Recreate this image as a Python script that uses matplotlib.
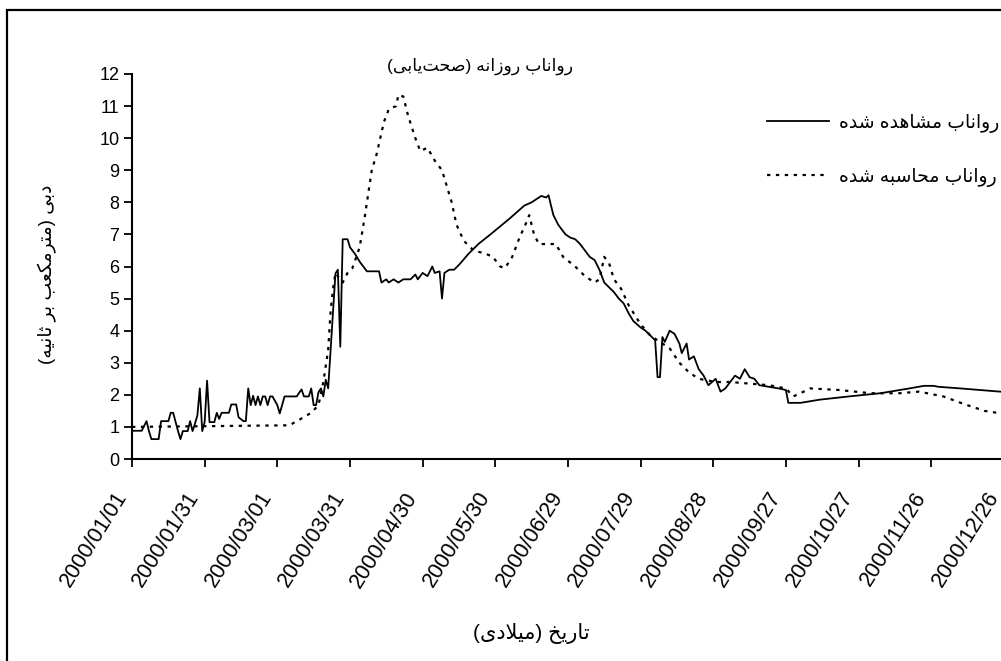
import matplotlib
matplotlib.use('Agg')
import matplotlib.pyplot as plt
import matplotlib.transforms as mtransforms
from matplotlib.patches import Rectangle

plt.rcParams['font.family'] = ['Liberation Sans', 'DejaVu Sans']

# روز از ابتدای سال 2000 و دبی مشاهده شده (مترمکعب بر ثانیه)
obs_day = [0, 4, 6, 7, 8, 11, 12, 15, 16, 17, 19, 20, 21, 23, 24, 25, 26, 27, 28, 29,
           30, 31, 32, 34, 35, 36, 37, 40, 41, 43, 44, 46, 47, 48, 49, 50, 51, 52, 53, 54,
           55, 56, 57, 58, 60, 61, 63, 68, 70, 71, 73, 74, 75, 76, 77, 78, 79, 80, 81, 84,
           85, 86, 87, 89, 90, 92, 94, 96, 97, 102, 103, 105, 106, 108, 110, 112, 115, 117, 118, 120,
           122, 124, 125, 127, 128, 129, 131, 133, 135, 139, 143, 148, 152, 156, 159, 162, 165, 167, 169, 171,
           172, 173, 174, 176, 177, 179, 181, 183, 185, 187, 189, 191, 193, 195, 197, 199, 201, 203, 205, 207,
           210, 212, 214, 216, 217, 218, 219, 220, 222, 224, 226, 227, 229, 230, 232, 234, 236, 238, 241, 243,
           245, 247, 249, 251, 253, 255, 257, 259, 263, 267, 270, 271, 276, 284, 296, 309, 321, 327, 331, 333,
           342, 350, 358, 365]
obs_q = [0.88, 0.88, 1.18, 0.87, 0.62, 0.62, 1.18, 1.18, 1.44, 1.44, 0.87, 0.62, 0.87, 0.87, 1.18, 0.87, 1.1, 1.36, 2.2, 0.87,
         1.15, 2.44, 1.15, 1.15, 1.44, 1.25, 1.44, 1.44, 1.7, 1.7, 1.3, 1.18, 1.18, 2.2, 1.68, 1.97, 1.68, 1.95, 1.68, 1.95,
         1.95, 1.68, 1.95, 1.95, 1.68, 1.42, 1.95, 1.95, 2.17, 1.95, 1.95, 2.2, 1.68, 1.68, 2.08, 2.2, 1.95, 2.47, 2.2, 5.78,
         5.9, 3.5, 6.85, 6.85, 6.6, 6.4, 6.15, 5.95, 5.85, 5.85, 5.5, 5.6, 5.5, 5.6, 5.5, 5.6, 5.6, 5.75, 5.6, 5.8,
         5.7, 6.0, 5.8, 5.85, 5.0, 5.8, 5.9, 5.9, 6.05, 6.4, 6.7, 7.0, 7.25, 7.5, 7.7, 7.9, 8.0, 8.1, 8.2, 8.15,
         8.22, 7.9, 7.6, 7.3, 7.2, 7.0, 6.9, 6.85, 6.7, 6.5, 6.3, 6.2, 5.9, 5.5, 5.35, 5.2, 5.0, 4.85, 4.55, 4.3,
         4.1, 4.0, 3.85, 3.7, 2.55, 2.55, 3.8, 3.65, 4.0, 3.9, 3.6, 3.3, 3.6, 3.1, 3.2, 2.8, 2.6, 2.3, 2.5, 2.1,
         2.2, 2.4, 2.6, 2.5, 2.8, 2.55, 2.5, 2.3, 2.25, 2.2, 2.15, 1.75, 1.75, 1.85, 1.95, 2.05, 2.2, 2.28, 2.28, 2.25,
         2.2, 2.15, 2.1, 2.07]

# دبی محاسبه شده توسط مدل
sim_day = [0, 65, 69, 74, 77, 79, 81, 82, 83, 84, 87, 89, 91, 94, 96, 99, 101, 104, 106, 109,
           110, 112, 114, 117, 119, 122, 125, 128, 130, 132, 134, 137, 141, 146, 149, 152, 154, 157, 160, 163,
           164, 166, 168, 172, 175, 178, 183, 187, 191, 193, 195, 197, 199, 202, 205, 210, 214, 218, 222, 226,
           230, 234, 241, 247, 255, 263, 270, 273, 276, 280, 292, 305, 317, 325, 335, 344, 352, 358, 365]
sim_q = [1.0, 1.05, 1.22, 1.44, 1.68, 2.4, 3.4, 4.6, 5.3, 5.8, 5.5, 5.8, 5.95, 6.6, 7.5, 9.0, 9.5, 10.5, 10.9, 11.0,
         11.35, 11.3, 10.7, 10.0, 9.6, 9.7, 9.3, 9.0, 8.5, 8.0, 7.3, 6.8, 6.5, 6.4, 6.3, 6.0, 5.95, 6.3, 6.9, 7.4,
         7.6, 7.0, 6.7, 6.7, 6.7, 6.3, 6.0, 5.7, 5.5, 5.6, 6.3, 6.1, 5.6, 5.3, 4.8, 4.2, 3.85, 3.65, 3.45, 3.0,
         2.7, 2.5, 2.4, 2.4, 2.35, 2.3, 2.2, 1.95, 2.05, 2.2, 2.15, 2.05, 2.05, 2.1, 1.95, 1.7, 1.5, 1.43, 1.42]

tick_days = [0, 30, 60, 90, 120, 150, 180, 210, 240, 270, 300, 330, 360]
tick_labels = ['2000/01/01', '2000/01/31', '2000/03/01', '2000/03/31', '2000/04/30',
               '2000/05/30', '2000/06/29', '2000/07/29', '2000/08/28', '2000/09/27',
               '2000/10/27', '2000/11/26', '2000/12/26']

title_txt = 'رواناب روزانه (صحت\u200cیابی)'
ylabel_txt = 'دبی (مترمکعب بر ثانیه)'
xlabel_txt = 'تاریخ (میلادی)'
obs_txt = 'رواناب مشاهده شده'
sim_txt = 'رواناب محاسبه شده'

# شکل‌های اتصالی حروف: تنها، پایانی، آغازی، میانی
FORMS = {
    'ا': ('\uFE8D', '\uFE8E', None, None),
    'ب': ('\uFE8F', '\uFE90', '\uFE91', '\uFE92'),
    'ت': ('\uFE95', '\uFE96', '\uFE97', '\uFE98'),
    'ث': ('\uFE99', '\uFE9A', '\uFE9B', '\uFE9C'),
    'ح': ('\uFEA1', '\uFEA2', '\uFEA3', '\uFEA4'),
    'خ': ('\uFEA5', '\uFEA6', '\uFEA7', '\uFEA8'),
    'د': ('\uFEA9', '\uFEAA', None, None),
    'ر': ('\uFEAD', '\uFEAE', None, None),
    'ز': ('\uFEAF', '\uFEB0', None, None),
    'س': ('\uFEB1', '\uFEB2', '\uFEB3', '\uFEB4'),
    'ش': ('\uFEB5', '\uFEB6', '\uFEB7', '\uFEB8'),
    'ص': ('\uFEB9', '\uFEBA', '\uFEBB', '\uFEBC'),
    'ع': ('\uFEC9', '\uFECA', '\uFECB', '\uFECC'),
    'ل': ('\uFEDD', '\uFEDE', '\uFEDF', '\uFEE0'),
    'م': ('\uFEE1', '\uFEE2', '\uFEE3', '\uFEE4'),
    'ن': ('\uFEE5', '\uFEE6', '\uFEE7', '\uFEE8'),
    'ه': ('\uFEE9', '\uFEEA', '\uFEEB', '\uFEEC'),
    'و': ('\uFEED', '\uFEEE', None, None),
    'ی': ('\uFBFC', '\uFBFD', '\uFBFE', '\uFBFF'),
    'ک': ('\uFB8E', '\uFB8F', '\uFB90', '\uFB91'),
}


def shape(text):
    out = []
    n = len(text)
    i = 0
    while i < n:
        c = text[i]
        if c not in FORMS:
            if c != '\u200c':
                out.append(c)
            i += 1
            continue
        prev = text[i - 1] if i > 0 else ''
        jp = prev in FORMS and FORMS[prev][2] is not None
        if c == 'ل' and i + 1 < n and text[i + 1] == 'ا':
            out.append('\uFEFC' if jp else '\uFEFB')
            i += 2
            continue
        jn = FORMS[c][2] is not None and i + 1 < n and text[i + 1] in FORMS
        iso, fin, ini, med = FORMS[c]
        out.append(med if jp and jn else fin if jp else ini if jn else iso)
        i += 1
    return ''.join(out)


def rtl(text):
    # متن راست‌به‌چپ: شکل‌دهی حروف، وارونه کردن ترتیب و قرینه کردن پرانتزها
    s = shape(text)[::-1]
    return s.translate({ord('('): ')', ord(')'): '('})


W, H = 1001, 661
fig = plt.figure(figsize=(W / 100, H / 100), dpi=100)
ax = fig.add_axes([132 / W, (H - 459) / H, (1016 - 132) / W, (459 - 74) / H])

ax.plot(obs_day, obs_q, color='black', lw=1.3, label=rtl(obs_txt))
ax.plot(sim_day, sim_q, color='black', lw=1.6, linestyle=(0, (1.5, 2.5)), label=rtl(sim_txt))

ax.set_xlim(0, 365)
ax.set_ylim(0, 12)
ax.set_yticks(range(0, 13))
ax.set_xticks(tick_days)
ax.set_xticklabels(tick_labels, rotation=58, ha='right', va='baseline', rotation_mode='anchor',
                   fontsize=15.5)
ax.tick_params(axis='both', length=6, width=1.3, color='black', direction='out')
ax.tick_params(axis='y', labelsize=13, pad=3)
ax.tick_params(axis='x', pad=21)
shift = mtransforms.ScaledTranslation(-0.05, 0, fig.dpi_scale_trans)
for lab in ax.get_xticklabels():
    lab.set_transform(lab.get_transform() + shift)
for side in ('top', 'right'):
    ax.spines[side].set_visible(False)
for side in ('left', 'bottom'):
    ax.spines[side].set_linewidth(1.5)

fig.text(480 / W, 1 - 66 / H, rtl(title_txt), ha='center', va='center', fontsize=12.5)
fig.text(531 / W, 1 - 633 / H, rtl(xlabel_txt), ha='center', va='center', fontsize=15)
fig.text(47 / W, 1 - 274 / H, rtl(ylabel_txt), ha='center', va='center', fontsize=13.5,
         rotation=90)

ax.legend(loc='upper left', bbox_to_anchor=(767 / W, 1 - 114 / H), bbox_transform=fig.transFigure,
          frameon=False, fontsize=13.5, handlelength=3.3, handletextpad=0.55, labelspacing=1.85,
          borderaxespad=0, borderpad=0)

# قاب دور نمودار
fig.patches.append(Rectangle((7 / W, -0.2), 1.3, 1.2 - 10 / H, transform=fig.transFigure,
                             fill=False, ec='black', lw=1.6))

fig.savefig('out.png', dpi=100)
